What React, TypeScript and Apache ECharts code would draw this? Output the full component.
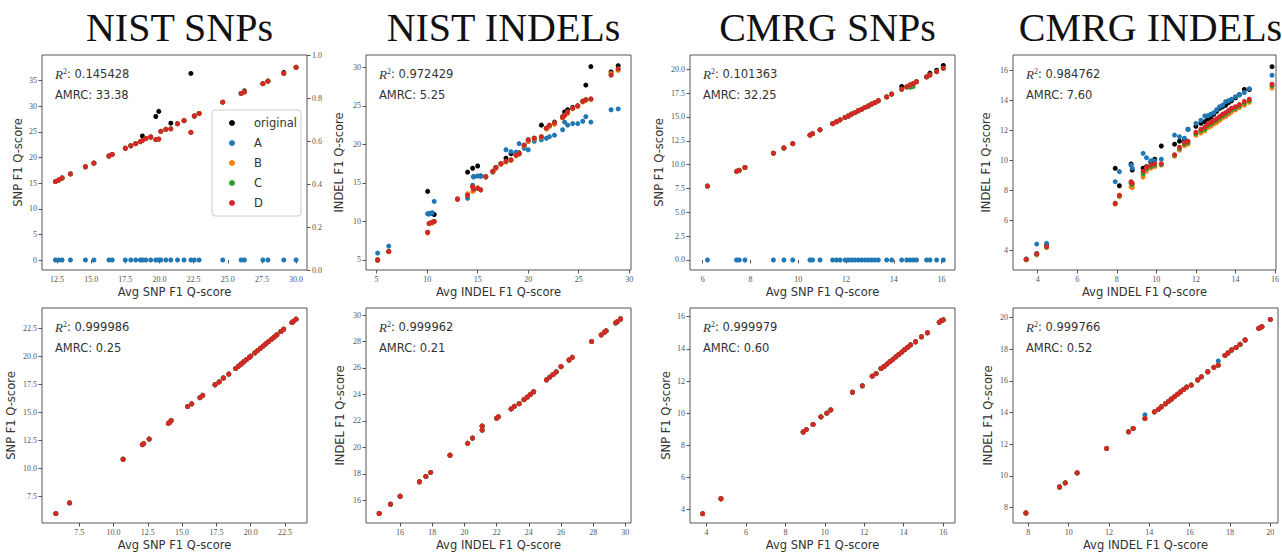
import React, { useEffect, useRef } from "react";
import * as echarts from "echarts";

const panelTitles = ["NIST SNPs", "NIST INDELs", "CMRG SNPs", "CMRG INDELs"];
const groupNames = ["original", "A", "B", "C", "D"];
const groupColors = ["#000000", "#1f77b4", "#ff7f0e", "#2ca02c", "#d62728"];

// ---------- Panel 1: NIST SNPs (top) ----------
const nistSnpTopX = [12.38, 12.62, 12.87, 13.48, 14.58, 15.2, 16.3, 16.54, 17.5, 17.9, 18.26, 18.6, 18.75, 19.0, 19.36, 19.73, 19.95, 20.1, 20.47, 20.83, 21.32, 21.8, 22.3, 22.55, 22.9, 24.63, 25.98, 26.22, 27.57, 27.94, 29.1, 30.0];
const nistSnpTopOrig = [15.3, 15.6, 16.0, 16.8, 18.2, 18.9, 20.3, 20.6, 21.8, 22.3, 22.7, 23.1, 24.2, 23.7, 24.0, 28.0, 29.0, 25.1, 25.5, 26.7, 26.6, 27.2, 36.4, 28.1, 28.6, 30.8, 32.5, 33.0, 34.4, 34.9, 36.6, 37.6];
const nistSnpTopA = [0, 0, 0, 0, 0, 0, 0, 0, 0, 0, 0, 0, 0, 0, 0, 0, 0, 0, 0, 0, 0, 0, 0, 0, 0, 0, 0, 0, 0, 0, 0, 0];
const nistSnpTopD = [15.3, 15.6, 16.0, 16.8, 18.2, 18.9, 20.3, 20.6, 21.8, 22.3, 22.7, 23.1, 23.3, 23.7, 24.0, 23.5, 23.6, 25.1, 25.5, 25.6, 26.6, 27.2, 24.9, 28.1, 28.6, 30.8, 32.5, 32.8, 34.4, 34.9, 36.4, 37.6];
const nistSnpTopB = nistSnpTopD;
const nistSnpTopC = nistSnpTopD;

// ---------- Panel 2: NIST INDELs (top) ----------
const nistIndelTopX = [5.1, 6.2, 10.05, 10.2, 10.5, 10.7, 13.0, 14.0, 14.5, 14.6, 15.0, 15.3, 15.8, 16.5, 16.8, 17.3, 17.8, 18.3, 18.8, 19.1, 19.6, 20.0, 20.6, 21.3, 21.8, 22.1, 22.6, 23.4, 23.6, 23.9, 24.4, 24.9, 25.4, 25.7, 26.2, 28.2, 28.9];
const nistIndelTopOrig = [5.0, 6.1, 13.9, 11.0, 11.1, 10.9, 12.9, 16.4, 16.9, 15.8, 17.2, 15.9, 15.8, 16.5, 17.0, 17.5, 18.2, 18.8, 18.7, 18.9, 19.9, 20.4, 20.8, 22.5, 22.1, 22.4, 22.9, 23.6, 24.2, 24.5, 24.8, 25.0, 25.6, 27.7, 30.1, 29.4, 30.2];
const nistIndelTopA = [5.9, 6.8, 11.0, 11.0, 11.1, 12.6, 12.9, 13.0, 14.7, 15.8, 15.9, 15.9, 15.8, 16.4, 16.9, 17.4, 19.3, 19.05, 19.0, 20.1, 19.5, 19.3, 20.4, 20.6, 20.8, 21.0, 21.2, 21.9, 22.9, 22.5, 22.7, 22.7, 23.0, 23.6, 22.9, 24.5, 24.6];
const nistIndelTopB = [5.0, 6.1, 8.5, 9.7, 9.8, 10.0, 12.9, 13.6, 13.9, 14.0, 14.4, 14.1, 15.8, 16.4, 16.9, 17.4, 17.7, 17.9, 18.5, 18.7, 19.8, 20.4, 20.7, 20.9, 22.0, 22.3, 22.6, 23.4, 23.7, 24.0, 24.6, 24.9, 25.5, 25.7, 25.8, 29.2, 29.6];
const nistIndelTopD = [5.0, 6.1, 8.6, 9.75, 9.9, 10.0, 12.9, 13.4, 14.5, 14.2, 14.3, 14.1, 15.8, 16.5, 17.0, 17.5, 17.8, 18.0, 18.6, 18.8, 19.9, 20.6, 20.8, 21.0, 22.1, 22.5, 22.8, 23.5, 23.8, 24.2, 24.7, 25.0, 25.6, 25.8, 25.9, 29.0, 29.8];
const nistIndelTopC = nistIndelTopD;

// ---------- Panel 3: CMRG SNPs (top) ----------
const cmrgSnpTopX = [6.2, 7.42, 7.53, 7.77, 8.96, 9.4, 9.77, 10.49, 10.6, 10.91, 11.44, 11.6, 11.75, 11.96, 12.1, 12.23, 12.37, 12.51, 12.65, 12.79, 12.93, 13.07, 13.21, 13.35, 13.7, 13.91, 14.33, 14.54, 14.68, 14.81, 14.95, 15.37, 15.51, 15.79, 16.07];
const cmrgSnpTopD = [7.75, 9.3, 9.4, 9.7, 11.2, 11.75, 12.2, 13.1, 13.25, 13.65, 14.3, 14.5, 14.7, 14.95, 15.1, 15.3, 15.45, 15.65, 15.8, 16.0, 16.15, 16.35, 16.5, 16.7, 17.1, 17.4, 17.9, 18.15, 18.35, 18.5, 18.7, 19.2, 19.4, 19.75, 20.1];
const cmrgSnpTopOrig = [7.75, 9.3, 9.4, 9.7, 11.2, 11.75, 12.2, 13.1, 13.25, 13.65, 14.3, 14.5, 14.7, 14.95, 15.1, 15.3, 15.45, 15.65, 15.8, 16.0, 16.15, 16.35, 16.5, 16.7, 17.1, 17.4, 18.2, 18.15, 18.35, 18.5, 18.7, 19.2, 19.6, 19.9, 20.4];
const cmrgSnpTopA = [0, 0, 0, 0, 0, 0, 0, 0, 0, 0, 0, 0, 0, 0, 0, 0, 0, 0, 0, 0, 0, 0, 0, 0, 0, 0, 0, 0, 0, 0, 0, 0, 0, 0, 0];
const cmrgSnpTopC = [7.75, 9.3, 9.4, 9.7, 11.2, 11.75, 12.2, 13.1, 13.25, 13.65, 14.3, 14.5, 14.7, 14.95, 15.1, 15.3, 15.45, 15.65, 15.8, 16.0, 16.15, 16.35, 16.5, 16.7, 17.1, 17.4, 17.9, 18.15, 18.1, 18.2, 18.7, 19.2, 19.4, 19.75, 20.1];
const cmrgSnpTopB = cmrgSnpTopD;

// ---------- Panel 4: CMRG INDELs (top) ----------
const cmrgIndelTopX = [3.42, 3.95, 4.45, 7.92, 8.13, 8.72, 8.78, 9.33, 9.5, 9.72, 9.92, 10.25, 10.92, 11.17, 11.42, 11.6, 12.0, 12.25, 12.45, 12.6, 12.75, 12.9, 13.05, 13.2, 13.35, 13.5, 13.65, 13.8, 14.0, 14.2, 14.45, 14.7, 15.85];
const cmrgIndelTopOrig = [3.42, 3.8, 4.35, 9.49, 8.33, 9.78, 9.38, 9.5, 9.6, 9.9, 10.1, 10.98, 11.1, 11.3, 11.4, 12.09, 12.3, 12.5, 12.6, 12.8, 12.9, 13.1, 13.3, 13.5, 13.6, 13.7, 13.87, 14.0, 14.2, 14.4, 14.75, 14.75, 16.27];
const cmrgIndelTopA = [3.45, 4.44, 4.49, 8.6, 9.27, 9.7, 9.5, 10.49, 10.2, 10.0, 10.0, 10.1, 11.71, 11.6, 11.5, 12.1, 12.49, 12.7, 12.98, 13.0, 13.1, 13.2, 13.4, 13.6, 13.7, 13.93, 14.0, 14.1, 14.27, 14.4, 14.55, 14.8, 15.7];
const cmrgIndelTopB = [3.38, 3.72, 4.2, 7.1, 7.6, 8.25, 8.2, 8.9, 9.3, 9.5, 9.6, 9.7, 10.3, 10.7, 11.0, 11.1, 11.7, 11.85, 12.0, 12.2, 12.3, 12.45, 12.55, 12.7, 12.85, 12.95, 13.1, 13.25, 13.4, 13.55, 13.7, 13.9, 14.85];
const cmrgIndelTopC = [3.4, 3.75, 4.25, 7.15, 7.65, 8.5, 8.4, 9.1, 9.45, 9.6, 9.7, 9.75, 10.35, 10.8, 11.1, 11.2, 11.8, 12.0, 12.1, 12.35, 12.45, 12.6, 12.7, 12.85, 13.0, 13.1, 13.25, 13.4, 13.5, 13.65, 13.85, 14.0, 15.0];
const cmrgIndelTopD = [3.42, 3.78, 4.27, 7.16, 7.7, 8.6, 8.5, 9.3, 9.55, 9.7, 9.8, 9.8, 10.4, 10.9, 11.2, 11.3, 11.9, 12.1, 12.25, 12.45, 12.55, 12.7, 12.8, 12.95, 13.1, 13.2, 13.35, 13.5, 13.6, 13.75, 13.95, 14.1, 15.1];

// ---------- Panel 5: NIST SNPs (bottom) ----------
const nistSnpBotX = [5.8, 6.8, 10.7, 12.1, 12.2, 12.6, 14.0, 14.1, 14.2, 15.4, 15.7, 16.3, 16.5, 17.4, 17.7, 18.0, 18.4, 18.9, 19.1, 19.3, 19.5, 19.7, 19.9, 20.0, 20.3, 20.5, 20.7, 20.9, 21.1, 21.3, 21.5, 21.7, 21.9, 22.2, 22.4, 23.0, 23.1, 23.3];
const nistSnpBotD = [5.95, 6.9, 10.8, 12.1, 12.2, 12.6, 14.0, 14.1, 14.25, 15.5, 15.75, 16.3, 16.5, 17.45, 17.7, 18.05, 18.4, 18.9, 19.1, 19.3, 19.5, 19.7, 19.9, 20.0, 20.3, 20.5, 20.7, 20.9, 21.1, 21.3, 21.5, 21.7, 21.9, 22.2, 22.4, 23.0, 23.1, 23.3];

// ---------- Panel 6: NIST INDELs (bottom) ----------
const nistIndelBotX = [14.7, 15.4, 16.0, 17.2, 17.6, 17.9, 19.1, 20.2, 20.5, 21.1, 21.1, 22.0, 22.1, 22.9, 23.1, 23.4, 23.7, 23.9, 24.1, 24.3, 25.1, 25.3, 25.5, 25.7, 26.0, 26.5, 26.7, 27.9, 28.5, 28.7, 28.8, 29.4, 29.5, 29.7];
const nistIndelBotD = [15.0, 15.7, 16.3, 17.4, 17.8, 18.1, 19.4, 20.3, 20.7, 21.3, 21.6, 22.2, 22.3, 22.9, 23.1, 23.3, 23.6, 23.8, 24.0, 24.2, 25.1, 25.3, 25.5, 25.7, 26.1, 26.6, 26.8, 28.0, 28.5, 28.7, 28.8, 29.4, 29.5, 29.7];

// ---------- Panel 7: CMRG SNPs (bottom) ----------
const cmrgSnpBotX = [3.8, 4.73, 8.9, 9.06, 9.4, 9.8, 10.1, 10.3, 11.4, 11.9, 12.4, 12.6, 12.85, 13.0, 13.15, 13.3, 13.45, 13.6, 13.75, 13.9, 14.05, 14.2, 14.35, 14.6, 14.9, 15.2, 15.8, 15.9, 16.0];
const cmrgSnpBotD = [3.75, 4.68, 8.83, 8.98, 9.3, 9.77, 10.0, 10.2, 11.3, 11.7, 12.3, 12.46, 12.78, 12.9, 13.05, 13.2, 13.35, 13.5, 13.65, 13.8, 13.95, 14.1, 14.25, 14.44, 14.75, 15.0, 15.65, 15.75, 15.8];

// ---------- Panel 8: CMRG INDELs (bottom) ----------
const cmrgIndelBotX = [7.88, 9.55, 9.83, 10.42, 11.88, 12.97, 13.2, 13.78, 14.25, 14.45, 14.6, 14.8, 14.95, 15.1, 15.25, 15.4, 15.55, 15.7, 15.85, 16.08, 16.4, 16.58, 16.9, 17.2, 17.42, 17.75, 17.9, 18.08, 18.3, 18.5, 18.75, 19.42, 19.5, 19.58, 20.0];
const cmrgIndelBotD = [7.66, 9.3, 9.56, 10.19, 11.73, 12.78, 12.99, 13.62, 14.04, 14.2, 14.36, 14.55, 14.7, 14.85, 15.0, 15.15, 15.3, 15.45, 15.6, 15.73, 16.05, 16.25, 16.57, 16.85, 16.99, 17.6, 17.75, 17.94, 18.1, 18.3, 18.57, 19.3, 19.35, 19.41, 19.87];
const cmrgIndelBotA = [7.66, 9.3, 9.56, 10.19, 11.73, 12.78, 12.99, 13.85, 14.04, 14.2, 14.36, 14.55, 14.7, 14.85, 15.0, 15.15, 15.3, 15.45, 15.6, 15.73, 16.05, 16.25, 16.57, 16.85, 17.25, 17.6, 17.75, 17.94, 18.1, 18.3, 18.57, 19.3, 19.35, 19.41, 19.87];

// ---------- Tick labels ----------
const ticksNistSnpTopX = [12.5, 15.0, 17.5, 20.0, 22.5, 25.0, 27.5, 30.0];
const ticksNistSnpTopY = [0, 5, 10, 15, 20, 25, 30, 35];
const ticksNistSnpTopRight = [0.0, 0.2, 0.4, 0.6, 0.8, 1.0];
const ticksNistIndelTopX = [5, 10, 15, 20, 25, 30];
const ticksNistIndelTopY = [5, 10, 15, 20, 25, 30];
const ticksCmrgSnpTopX = [6, 8, 10, 12, 14, 16];
const ticksCmrgSnpTopY = [0.0, 2.5, 5.0, 7.5, 10.0, 12.5, 15.0, 17.5, 20.0];
const ticksCmrgIndelTopX = [4, 6, 8, 10, 12, 14, 16];
const ticksCmrgIndelTopY = [4, 6, 8, 10, 12, 14, 16];
const ticksNistSnpBotX = [7.5, 10.0, 12.5, 15.0, 17.5, 20.0, 22.5];
const ticksNistSnpBotY = [7.5, 10.0, 12.5, 15.0, 17.5, 20.0, 22.5];
const ticksNistIndelBotX = [16, 18, 20, 22, 24, 26, 28, 30];
const ticksNistIndelBotY = [16, 18, 20, 22, 24, 26, 28, 30];
const ticksCmrgSnpBotX = [4, 6, 8, 10, 12, 14, 16];
const ticksCmrgSnpBotY = [4, 6, 8, 10, 12, 14, 16];
const ticksCmrgIndelBotX = [8, 10, 12, 14, 16, 18, 20];
const ticksCmrgIndelBotY = [8, 10, 12, 14, 16, 18, 20];

// ---------- Annotations ----------
const r2Values = ["0.145428", "0.972429", "0.101363", "0.984762", "0.999986", "0.999962", "0.999979", "0.999766"];
const amrcValues = ["33.38", "5.25", "32.25", "7.60", "0.25", "0.21", "0.60", "0.52"];

const SNP_X = "Avg SNP F1 Q-score";
const SNP_Y = "SNP F1 Q-score";
const INDEL_X = "Avg INDEL F1 Q-score";
const INDEL_Y = "INDEL F1 Q-score";

const panels = [
  { x: nistSnpTopX, ys: [nistSnpTopOrig, nistSnpTopA, nistSnpTopB, nistSnpTopC, nistSnpTopD], xName: SNP_X, yName: SNP_Y, xMin: 11.4, xMax: 30.8, yMin: -1.95, yMax: 40, xTicks: ticksNistSnpTopX, yTicks: ticksNistSnpTopY, xDec: 1, yDec: 0 },
  { x: nistIndelTopX, ys: [nistIndelTopOrig, nistIndelTopA, nistIndelTopB, nistIndelTopC, nistIndelTopD], xName: INDEL_X, yName: INDEL_Y, xMin: 3.95, xMax: 30.17, yMin: 3.7, yMax: 31.6, xTicks: ticksNistIndelTopX, yTicks: ticksNistIndelTopY, xDec: 0, yDec: 0 },
  { x: cmrgSnpTopX, ys: [cmrgSnpTopOrig, cmrgSnpTopA, cmrgSnpTopB, cmrgSnpTopC, cmrgSnpTopD], xName: SNP_X, yName: SNP_Y, xMin: 5.47, xMax: 16.56, yMin: -1.05, yMax: 21.5, xTicks: ticksCmrgSnpTopX, yTicks: ticksCmrgSnpTopY, xDec: 0, yDec: 1 },
  { x: cmrgIndelTopX, ys: [cmrgIndelTopOrig, cmrgIndelTopA, cmrgIndelTopB, cmrgIndelTopC, cmrgIndelTopD], xName: INDEL_X, yName: INDEL_Y, xMin: 2.75, xMax: 16.05, yMin: 2.71, yMax: 17.05, xTicks: ticksCmrgIndelTopX, yTicks: ticksCmrgIndelTopY, xDec: 0, yDec: 0 },
  { x: nistSnpBotX, ys: [nistSnpBotD, nistSnpBotD, nistSnpBotD, nistSnpBotD, nistSnpBotD], xName: SNP_X, yName: SNP_Y, xMin: 4.79, xMax: 24.1, yMin: 5.11, yMax: 24.3, xTicks: ticksNistSnpBotX, yTicks: ticksNistSnpBotY, xDec: 1, yDec: 1 },
  { x: nistIndelBotX, ys: [nistIndelBotD, nistIndelBotD, nistIndelBotD, nistIndelBotD, nistIndelBotD], xName: INDEL_X, yName: INDEL_Y, xMin: 13.88, xMax: 30.35, yMin: 14.28, yMax: 30.53, xTicks: ticksNistIndelBotX, yTicks: ticksNistIndelBotY, xDec: 0, yDec: 0 },
  { x: cmrgSnpBotX, ys: [cmrgSnpBotD, cmrgSnpBotD, cmrgSnpBotD, cmrgSnpBotD, cmrgSnpBotD], xName: SNP_X, yName: SNP_Y, xMin: 3.16, xMax: 16.6, yMin: 3.17, yMax: 16.54, xTicks: ticksCmrgSnpBotX, yTicks: ticksCmrgSnpBotY, xDec: 0, yDec: 0 },
  { x: cmrgIndelBotX, ys: [cmrgIndelBotD, cmrgIndelBotA, cmrgIndelBotD, cmrgIndelBotD, cmrgIndelBotD], xName: INDEL_X, yName: INDEL_Y, xMin: 7.24, xMax: 20.38, yMin: 7.03, yMax: 20.59, xTicks: ticksCmrgIndelBotX, yTicks: ticksCmrgIndelBotY, xDec: 0, yDec: 0 },
];

// layout
const colLeft = [42, 366, 690, 1013];
const rowTop = [55, 308];
const gridW = 265;
const gridH = 215;
const yNameGaps = [18, 21, 25, 21, 25, 20, 18, 19];

const tickFont = { fontFamily: "Liberation Serif", fontSize: 8, color: "#555" };
const nameFont = { fontFamily: "DejaVu Sans", fontSize: 11.5, color: "#333" };

export default function App() {
  const ref = useRef<HTMLDivElement>(null);
  useEffect(() => {
    if (!ref.current) return;
    const chart = echarts.init(ref.current, undefined, { renderer: "svg" });
    const grids: any[] = [];
    const xAxes: any[] = [];
    const yAxes: any[] = [];
    const series: any[] = [];
    const graphics: any[] = [];

    panels.forEach((p, i) => {
      const left = colLeft[i % 4];
      const top = rowTop[Math.floor(i / 4)];
      grids.push({ left, top, width: gridW, height: gridH, show: true, borderColor: "#555", borderWidth: 1, backgroundColor: "transparent", containLabel: false });
      xAxes.push({
        type: "value", gridIndex: i, min: p.xMin, max: p.xMax,
        axisLine: { show: false },
        axisTick: { show: true, length: 3.5, lineStyle: { color: "#555" }, customValues: p.xTicks },
        axisLabel: { ...tickFont, margin: 5, customValues: p.xTicks, formatter: (v: number) => v.toFixed(p.xDec) },
        splitLine: { show: false },
        name: p.xName, nameLocation: "middle", nameGap: 16, nameTextStyle: nameFont,
      });
      yAxes.push({
        type: "value", gridIndex: i, min: p.yMin, max: p.yMax,
        axisLine: { show: false },
        axisTick: { show: true, length: 3.5, lineStyle: { color: "#555" }, customValues: p.yTicks },
        axisLabel: { ...tickFont, margin: 5, customValues: p.yTicks, formatter: (v: number) => v.toFixed(p.yDec) },
        splitLine: { show: false },
        name: p.yName, nameLocation: "middle", nameGap: yNameGaps[i], nameTextStyle: nameFont,
      });
      p.ys.forEach((ys, g) => {
        series.push({
          type: "scatter", name: groupNames[g], xAxisIndex: i, yAxisIndex: i,
          data: p.x.map((xv, j) => [xv, ys[j]]),
          symbolSize: 5, itemStyle: { color: groupColors[g], opacity: 1 },
          emphasis: { disabled: true },
        });
      });
      graphics.push({
        type: "text", x: left + 13, y: top + 19,
        style: {
          text: `{r|R}{s|2}{t|: ${r2Values[i]}}`,
          verticalAlign: "middle",
          rich: {
            r: { fontFamily: "Liberation Serif", fontStyle: "italic", fontSize: 13, fill: "#333" },
            s: { fontFamily: "Liberation Serif", fontSize: 8, fill: "#333", verticalAlign: "top" },
            t: { fontFamily: "DejaVu Sans", fontSize: 11.5, fill: "#333" },
          },
        },
      });
      graphics.push({
        type: "text", x: left + 13, y: top + 40,
        style: { text: `AMRC: ${amrcValues[i]}`, verticalAlign: "middle", fontFamily: "DejaVu Sans", fontSize: 11.5, fill: "#333" },
      });
    });

    // right-hand twin axis on the first panel
    yAxes.push({
      type: "value", gridIndex: 0, position: "right", min: 0, max: 1,
      axisLine: { show: false },
      axisTick: { show: true, length: 3.5, lineStyle: { color: "#555" }, customValues: ticksNistSnpTopRight },
      axisLabel: { ...tickFont, margin: 5, customValues: ticksNistSnpTopRight, formatter: (v: number) => v.toFixed(1) },
      splitLine: { show: false },
    });

    chart.setOption({
      animation: false,
      backgroundColor: "#ffffff",
      title: panelTitles.map((t, i) => ({
        text: t, left: colLeft[i] + gridW / 2, top: 2, textAlign: "center",
        textStyle: { fontFamily: "Liberation Serif", fontSize: 40, fontWeight: "normal", color: "#111" },
      })),
      legend: {
        data: groupNames.map((n) => ({ name: n, icon: "circle" })),
        orient: "vertical", left: 212, top: 110,
        itemWidth: 6, itemHeight: 6, itemGap: 6,
        padding: [6, 4, 6, 17],
        backgroundColor: "rgba(255,255,255,0.85)", borderColor: "#ccc", borderWidth: 1, borderRadius: 3,
        textStyle: { fontFamily: "DejaVu Sans", fontSize: 11.5, color: "#333", padding: [0, 0, 0, 14], lineHeight: 14 },
        selectedMode: false,
      },
      grid: grids,
      xAxis: xAxes,
      yAxis: yAxes,
      series,
      graphic: graphics,
    });
    return () => chart.dispose();
  }, []);
  return <div ref={ref} style={{ position: "absolute", left: 0, top: 0, width: 1282, height: 553 }} />;
}
